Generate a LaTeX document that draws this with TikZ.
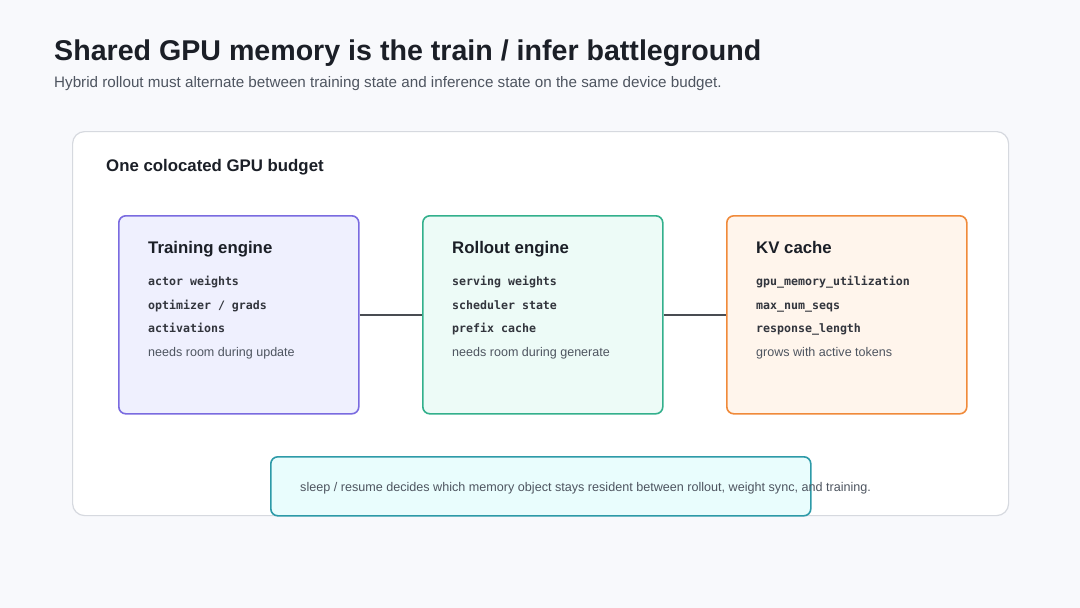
\documentclass[tikz,border=0pt]{standalone}
\usepackage{fontspec}
\setmainfont{Liberation Sans}
\setmonofont{DejaVu Sans Mono}
\usepackage{xcolor}
\usetikzlibrary{positioning}

\definecolor{pagebg}{HTML}{F8F9FC}
\definecolor{panelline}{HTML}{D6D9DF}
\definecolor{inkdark}{HTML}{1B1F27}
\definecolor{inkgray}{HTML}{4E5560}
\definecolor{trainline}{HTML}{7A6BE0}
\definecolor{trainfill}{HTML}{EFF0FE}
\definecolor{rollline}{HTML}{33B08C}
\definecolor{rollfill}{HTML}{EDFBF7}
\definecolor{kvline}{HTML}{F08A3A}
\definecolor{kvfill}{HTML}{FFF5EC}
\definecolor{noteline}{HTML}{2D9AA8}
\definecolor{notefill}{HTML}{E9FDFD}

\begin{document}
\begin{tikzpicture}[
  x=1pt, y=-1pt,
  engine/.style={
    rounded corners=7pt,
    line width=1.6pt,
    minimum width=240pt,
    minimum height=198pt,
    anchor=north west,
    inner sep=0pt
  },
  heading/.style={anchor=base west, inner sep=0pt, text=inkdark, font=\fontsize{16.8}{19}\selectfont\bfseries},
  field/.style={anchor=base west, inner sep=0pt, text=inkdark!90, font=\ttfamily\fontsize{11.6}{14}\selectfont\bfseries},
  remark/.style={anchor=base west, inner sep=0pt, text=inkgray, font=\fontsize{12.55}{14}\selectfont},
  link/.style={line width=1.7pt, draw=inkdark!80}
]

% page and panel
\fill[pagebg] (0,0) rectangle (1080,608);
\node[draw=panelline, fill=white, line width=1.2pt, rounded corners=12pt,
  minimum width=936pt, minimum height=384pt, anchor=north west, inner sep=0pt] (panel) at (72,131) {};

\node[anchor=base west, inner sep=0pt, text=inkdark, font=\fontsize{28.6}{32}\selectfont\bfseries] (title) at (54,60)
  {Shared GPU memory is the train / infer battleground};
\node[anchor=base west, inner sep=0pt, text=inkgray, font=\fontsize{15.2}{17}\selectfont] (subtitle) at (54,87)
  {Hybrid rollout must alternate between training state and inference state on the same device budget.};

\node[heading] (budget) at (106,171) {One colocated GPU budget};

% three engines
\node[engine, draw=trainline, fill=trainfill] (train) at (118,215) {};
\node[engine, draw=rollline, fill=rollfill] (rollout) at (422,215) {};
\node[engine, draw=kvline, fill=kvfill] (kv) at (726,215) {};

\draw[link] (train.east) -- (rollout.west);
\draw[link] (rollout.east) -- (kv.west);

\node[heading] (trainhead) at (148,253) {Training engine};
\node[field] (train1) at (148,285) {actor weights};
\node[field] (train2) at (148,309) {optimizer / grads};
\node[field] (train3) at (148,332) {activations};
\node[remark] (trainnote) at (148,356) {needs room during update};

\node[heading] (rollhead) at (452,253) {Rollout engine};
\node[field] (roll1) at (452,285) {serving weights};
\node[field] (roll2) at (452,309) {scheduler state};
\node[field] (roll3) at (452,332) {prefix cache};
\node[remark] (rollnote) at (452,356) {needs room during generate};

\node[heading] (kvhead) at (756,253) {KV cache};
\node[field] (kv1) at (756,285) {gpu\_memory\_utilization};
\node[field] (kv2) at (756,309) {max\_num\_seqs};
\node[field] (kv3) at (756,332) {response\_length};
\node[remark] (kvnote) at (756,356) {grows with active tokens};

% sleep / resume strip
\node[engine, draw=noteline, fill=notefill, minimum width=540pt, minimum height=59pt] (strip) at (270,456) {};
\node[remark, font=\fontsize{12.6}{14}\selectfont] (striptext) at (300,491)
  {sleep / resume decides which memory object stays resident between rollout, weight sync, and training.};

\end{tikzpicture}
\end{document}
